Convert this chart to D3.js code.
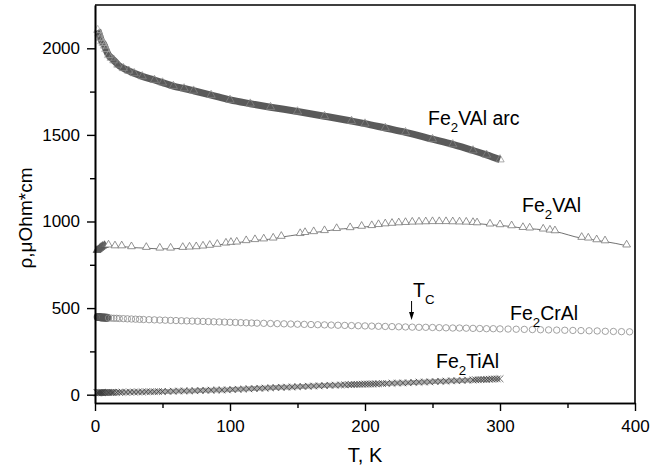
<!DOCTYPE html>
<html>
<head>
<meta charset="utf-8">
<script src="https://cdn.jsdelivr.net/npm/d3@7"></script>
<style>
  html, body { margin: 0; padding: 0; background: #fff; }
  svg { display: block; font-family: "Liberation Sans", Arial, sans-serif; }
</style>
</head>
<body>
<div id="graph"></div>
<script>
// Fe2VAl arc (dense triangles)
const arcT = [2, 3, 4, 5, 6, 7, 8, 10, 12, 14, 17, 21, 25, 29, 35, 44, 50, 58, 66, 73, 86, 100, 115, 130, 150, 170, 190, 200, 215, 230, 250, 265, 280, 290, 300];
const arcRho = [2105, 2085, 2060, 2040, 2030, 2015, 1995, 1960, 1945, 1930, 1905, 1885, 1870, 1856, 1838, 1817, 1802, 1782, 1768, 1755, 1730, 1702, 1680, 1660, 1635, 1608, 1580, 1565, 1540, 1515, 1475, 1445, 1410, 1385, 1358];

// Fe2VAl (open triangles)
const valT = [1.5, 2.5, 3.5, 4.5, 5.5, 7, 10, 14.8, 19.8, 27, 38, 48, 56, 65, 70, 75, 80, 85, 90.6, 97, 100.7, 105, 112, 118.5, 125, 132, 138, 152, 155.6, 162, 170, 179, 189, 197.5, 205, 210, 215, 220, 225, 230, 235, 240, 245, 250, 255, 260, 265, 270, 275, 280, 283, 292.6, 300, 308.6, 317, 322, 332, 337, 340.7, 360.5, 365.4, 371.6, 377.8, 393.8];
const valRho = [828, 833, 840, 846, 852, 857, 860, 855, 855, 850, 846, 842, 842, 846, 848, 850, 854, 858, 864, 871, 875, 877, 885, 891, 895, 900, 910, 926, 932, 937, 943, 955, 960, 968, 972, 978, 982, 985, 988, 990, 992, 993, 994, 995, 995, 995, 994, 993, 992, 990, 988, 981, 977, 971, 961, 958, 952, 946, 942, 904, 900, 890, 884, 860];

// Fe2CrAl (open circles)
const crT = [2, 3, 4, 5, 6, 7, 8, 9, 10, 12, 14, 16, 18, 21, 24, 27, 30, 33, 36, 40, 44, 48, 52, 56, 60, 64, 68, 72, 76, 80, 84, 88, 92, 96, 100, 104, 108, 112, 116, 120, 125, 130, 135, 140, 145, 150, 155, 160, 165, 170, 175, 180, 185, 190, 195, 200, 205, 210, 215, 220, 225, 230, 235, 240, 245, 250, 255, 260, 265, 270, 275, 280, 285, 290, 295, 300, 306, 312, 318, 324, 330, 336, 342, 348, 354, 360, 366, 372, 378, 384, 390, 396];
const crRho = [449, 448, 447, 446, 446, 445, 444, 444, 443, 442, 441, 441, 440, 439, 438, 437, 436, 435, 434, 433, 432, 431, 430, 429, 428, 427, 426, 425, 424, 423, 422, 421, 420, 419, 418, 417, 416, 415, 414, 413, 412, 411, 410, 409, 408, 407, 406, 405, 404, 403, 402, 401, 400, 399, 398, 397, 396, 395, 394, 393, 392, 391, 390, 389, 389, 388, 387, 386, 385, 385, 384, 383, 382, 381, 381, 380, 379, 378, 377, 376, 375, 374, 373, 372, 371, 370, 369, 368, 366, 365, 364, 363];

// Fe2TiAl (dense crosses)
const tiT = [1.5, 2, 2.5, 3, 3.5, 4, 4.5, 5, 5.5, 6, 7, 8, 9, 10, 11, 12, 13, 14, 16, 18, 20, 23, 26, 29, 32, 35, 38, 41, 44, 47, 50, 54, 58, 62, 66, 70, 74, 78, 82, 86, 90, 94, 98, 102, 106, 110, 114, 118, 122, 126, 130, 134, 138, 142, 146, 150, 154, 158, 162, 166, 170, 174, 178, 182, 185, 188, 190, 192, 194, 196, 198, 200, 202, 204, 206, 208, 210, 213, 216, 220, 224, 228, 232, 236, 240, 244, 248, 252, 256, 260, 264, 268, 272, 276, 280, 282, 284, 286, 288, 290, 292, 294, 296, 298, 300];
const tiRho = [11, 11, 11, 12, 12, 12, 12, 12, 12, 12, 12, 12, 13, 13, 13, 13, 13, 13, 13, 14, 14, 14, 15, 15, 16, 16, 17, 17, 17, 18, 18, 19, 20, 21, 22, 22, 23, 24, 25, 26, 27, 27, 28, 29.7, 31.1, 32.5, 33.9, 35.3, 36.7, 38.1, 39.5, 40.9, 42.3, 43.4, 44.7, 46, 47.3, 48.6, 49.9, 51.2, 52.5, 54, 55, 56, 57, 58, 58.5, 59, 59.5, 60, 60.5, 61, 61, 61.5, 62, 62.5, 63, 64, 65, 66, 67, 68, 69, 71, 72, 73, 74, 76, 77, 78, 80, 81, 82, 84, 85, 86, 86, 87, 88, 88, 89, 90, 91, 91, 92];

const xMajor = [0, 100, 200, 300, 400];
const xMinor = [50, 150, 250, 350];
const yMajor = [0, 500, 1000, 1500, 2000];
const yMinor = [250, 750, 1250, 1750];

const width = 664;
const height = 466;
const plotLeft = 95;
const plotRight = 635;
const plotTop = 5;
const plotBottom = 403;

const zip = (a, b) => a.map((t, i) => ({t: t, r: b[i]}));
const arcData = zip(arcT, arcRho);
const valData = zip(valT, valRho);
const crData = zip(crT, crRho);
const tiData = zip(tiT, tiRho);

const x = d3.scaleLinear().domain([0, 400]).range([plotLeft, plotRight]);
const y = d3.scaleLinear().domain([-48, 2250]).range([plotBottom, plotTop]);

const svg = d3.create("svg")
              .attr("width", width)
              .attr("height", height)
              .attr("viewBox", `0 0 ${width} ${height}`);

svg.append("rect").attr("width", width).attr("height", height).attr("fill", "#fff");

const line = d3.line().x(d => x(d.t)).y(d => y(d.r));

//Fe2TiAl band
svg.append("path")
   .datum(tiData)
   .attr("d", line)
   .attr("fill", "none")
   .attr("stroke", "#a8a8a8")
   .attr("stroke-width", 5);

svg.append("g")
   .selectAll("path")
   .data(tiData)
   .join("path")
   .attr("transform", d => `translate(${x(d.t)},${y(d.r)})`)
   .attr("d", d3.symbol(d3.symbolTimes, 32))
   .attr("fill", "none")
   .attr("stroke", "#3a3a3a")
   .attr("stroke-width", 0.7);

//Fe2CrAl circles
svg.append("g")
   .selectAll("circle")
   .data(crData)
   .join("circle")
   .attr("cx", d => x(d.t))
   .attr("cy", d => y(d.r))
   .attr("r", 3.2)
   .attr("fill", "none")
   .attr("stroke", d => d.t < 10 ? "#555" : "#8a8a8a")
   .attr("stroke-width", d => d.t < 10 ? 1.6 : 0.8);

//Fe2VAl line + triangles
svg.append("path")
   .datum(valData)
   .attr("d", line.curve(d3.curveMonotoneX))
   .attr("fill", "none")
   .attr("stroke", "#333")
   .attr("stroke-width", 0.7);

svg.append("g")
   .selectAll("path")
   .data(valData)
   .join("path")
   .attr("transform", d => `translate(${x(d.t)},${y(d.r) - 1})`)
   .attr("d", d3.symbol(d3.symbolTriangle, 26))
   .attr("fill", d => d.t < 8 ? "#666" : "#fff")
   .attr("stroke", d => d.t < 8 ? "#555" : "#777")
   .attr("stroke-width", 0.8);

//Fe2VAl arc band
svg.append("path")
   .datum(arcData)
   .attr("d", line.curve(d3.curveMonotoneX))
   .attr("fill", "none")
   .attr("stroke", "#5a5a5a")
   .attr("stroke-width", 7);

svg.append("g")
   .selectAll("path")
   .data(arcData)
   .join("path")
   .attr("transform", d => `translate(${x(d.t)},${y(d.r)})`)
   .attr("d", d3.symbol(d3.symbolTriangle, 30))
   .attr("fill", "none")
   .attr("stroke", d => d.t < 12 ? "#aaa" : "#888")
   .attr("stroke-width", 0.7);

//axes
const xAxisMinor = d3.axisBottom(x).tickValues(xMinor).tickSize(5).tickFormat("").tickSizeOuter(0);
const xAxis = d3.axisBottom(x).tickValues(xMajor).tickSize(8).tickPadding(9).tickFormat(d3.format("d")).tickSizeOuter(0);
const yAxisMinor = d3.axisLeft(y).tickValues(yMinor).tickSize(5).tickFormat("").tickSizeOuter(0);
const yAxis = d3.axisLeft(y).tickValues(yMajor).tickSize(8).tickPadding(7).tickFormat(d3.format("d")).tickSizeOuter(0);

svg.append("g").attr("transform", `translate(0,${plotBottom})`).call(xAxisMinor);
svg.append("g").attr("transform", `translate(0,${plotBottom})`).call(xAxis);
svg.append("g").attr("transform", `translate(${plotLeft},0)`).call(yAxisMinor);
svg.append("g").attr("transform", `translate(${plotLeft},0)`).call(yAxis);

svg.selectAll(".domain").attr("stroke", "#000").attr("stroke-width", 1.6);
svg.selectAll(".tick line").attr("stroke", "#000").attr("stroke-width", 1.4);
svg.selectAll(".tick text")
   .attr("fill", "#000")
   .style("font-size", "17px")
   .style("font-family", "'Liberation Sans', Arial, sans-serif");

//frame top/right
svg.append("path")
   .attr("d", `M${plotLeft},${plotTop}H${plotRight}V${plotBottom}`)
   .attr("fill", "none")
   .attr("stroke", "#000")
   .attr("stroke-width", 1.6);

//axis titles
svg.append("text")
   .attr("x", 365)
   .attr("y", 462)
   .attr("text-anchor", "middle")
   .style("font-size", "20px")
   .text("T, K");

svg.append("text")
   .attr("transform", "rotate(-90)")
   .attr("x", -218)
   .attr("y", 32)
   .attr("text-anchor", "middle")
   .style("font-size", "19px")
   .text("ρ,μOhm*cm");

//series labels
const subLabel = (px, py, sub, rest, size) => {
  const t = svg.append("text")
               .attr("x", px)
               .attr("y", py)
               .style("font-size", `${size}px`);
  t.append("tspan").text(sub[0]);
  t.append("tspan").attr("dy", 7).style("font-size", `${size * 0.68}px`).text(sub[1]);
  t.append("tspan").attr("dy", -7).text(rest);
};

subLabel(428, 125, ["Fe", "2"], "VAl arc", 19.5);
subLabel(522, 212, ["Fe", "2"], "VAl", 19.5);
subLabel(510, 320, ["Fe", "2"], "CrAl", 19.5);
subLabel(436, 368, ["Fe", "2"], "TiAl", 19.5);
subLabel(413, 297, ["T", "C"], "", 19.5);

//Tc arrow
const tcX = x(234.5);
svg.append("line")
   .attr("x1", tcX).attr("x2", tcX)
   .attr("y1", 301).attr("y2", 314)
   .attr("stroke", "#000")
   .attr("stroke-width", 1);

svg.append("path")
   .attr("d", `M${tcX - 2.5},312L${tcX + 2.5},312L${tcX},320Z`)
   .attr("fill", "#000");

document.getElementById("graph").append(svg.node());
</script>
</body>
</html>
